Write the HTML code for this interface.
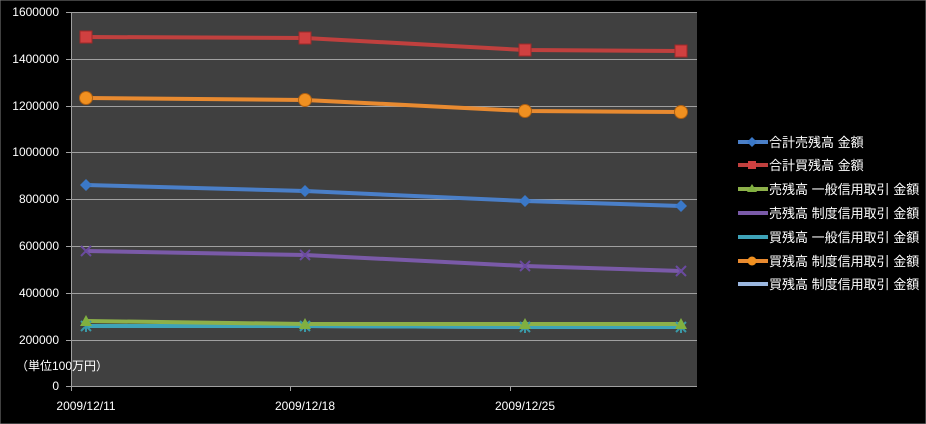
<!DOCTYPE html>
<html><head><meta charset="utf-8"><style>
html,body{margin:0;padding:0;background:#000;}
svg{display:block;}
text{font-family:"Liberation Sans","Noto Sans CJK JP",sans-serif;fill:#fff;}
</style></head><body>
<svg width="926" height="424" xmlns="http://www.w3.org/2000/svg">
<rect x="0" y="0" width="926" height="424" fill="#000" stroke="#808080" stroke-width="1"/>
<rect x="71" y="12" width="626" height="374" fill="#404040"/>
<g stroke="#a0a0a0" stroke-width="1">
<line x1="66" y1="12.5" x2="697" y2="12.5"/>
<line x1="66" y1="59.5" x2="697" y2="59.5"/>
<line x1="66" y1="106.5" x2="697" y2="106.5"/>
<line x1="66" y1="152.5" x2="697" y2="152.5"/>
<line x1="66" y1="199.5" x2="697" y2="199.5"/>
<line x1="66" y1="246.5" x2="697" y2="246.5"/>
<line x1="66" y1="293.5" x2="697" y2="293.5"/>
<line x1="66" y1="340.5" x2="697" y2="340.5"/>
<line x1="66" y1="386.5" x2="697" y2="386.5"/>
<line x1="71.5" y1="12" x2="71.5" y2="391"/>
<line x1="290.5" y1="386" x2="290.5" y2="391"/>
<line x1="510.5" y1="386" x2="510.5" y2="391"/>
</g>
<g font-size="12" text-anchor="end">
<text x="59" y="16">1600000</text>
<text x="59" y="63">1400000</text>
<text x="59" y="110">1200000</text>
<text x="59" y="156">1000000</text>
<text x="59" y="203">800000</text>
<text x="59" y="250">600000</text>
<text x="59" y="297">400000</text>
<text x="59" y="344">200000</text>
<text x="59" y="390">0</text>
</g>
<text x="16" y="370" font-size="12">（単位100万円）</text>
<g font-size="12" text-anchor="middle">
<text x="86" y="410">2009/12/11</text>
<text x="305" y="410">2009/12/18</text>
<text x="525" y="410">2009/12/25</text>
</g>
<g fill="none" stroke-width="4" stroke-linejoin="round">
<polyline points="86,326 305,326 525,327 681,327" stroke="#9bb7e0"/>
<polyline points="86,326 305,326 525,327 681,327" stroke="#3ea3b8"/>
<polyline points="86,321 305,324 525,324 681,324" stroke="#8db04a"/>
<polyline points="86,251 305,255 525,266 681,271" stroke="#7a5aa8"/>
<polyline points="86,185 305,191 525,201 681,206" stroke="#4a7fc8"/>
<polyline points="86,98 305,100 525,111 681,112" stroke="#e88a30"/>
<polyline points="86,37 305,38 525,50 681,51" stroke="#c0403e"/>
</g>
<g fill="#d04040" stroke="#a02828">
<rect x="80" y="31" width="12" height="12"/><rect x="299" y="32" width="12" height="12"/><rect x="519" y="44" width="12" height="12"/><rect x="675" y="45" width="12" height="12"/>
</g>
<g fill="#f09020" stroke="#b06010">
<circle cx="86" cy="98" r="6.5"/><circle cx="305" cy="100" r="6.5"/><circle cx="525" cy="111" r="6.5"/><circle cx="681" cy="112" r="6.5"/>
</g>
<g fill="#3a78c8">
<polygon points="86,179 92,185 86,191 80,185"/><polygon points="305,185 311,191 305,197 299,191"/><polygon points="525,195 531,201 525,207 519,201"/><polygon points="681,200 687,206 681,212 675,206"/>
</g>
<g stroke="#6a4aa0" stroke-width="2">
<path d="M81,246l10,10M91,246l-10,10M300,250l10,10M310,250l-10,10M520,261l10,10M530,261l-10,10M676,266l10,10M686,266l-10,10"/>
</g>
<g stroke="#3a9aa8" stroke-width="2">
<path d="M81,321l10,10M91,321l-10,10M86,320v12M300,321l10,10M310,321l-10,10M305,320v12M520,322l10,10M530,322l-10,10M525,321v12M676,322l10,10M686,322l-10,10M681,321v12"/>
</g>
<g fill="#80b040">
<polygon points="86,315 92,326 80,326"/><polygon points="305,318 311,329 299,329"/><polygon points="525,318 531,329 519,329"/><polygon points="681,318 687,329 675,329"/>
</g>
<g font-size="13">
<line x1="738" y1="142" x2="768" y2="142" stroke="#4a7fc8" stroke-width="4"/><polygon points="752,137 757,142 752,147 747,142" fill="#3a78c8"/>
<text x="769" y="147">合計売残高 金額</text>
<line x1="738" y1="165" x2="768" y2="165" stroke="#c0403e" stroke-width="4"/><rect x="748" y="161" width="8" height="8" fill="#d04040"/>
<text x="769" y="170">合計買残高 金額</text>
<line x1="738" y1="189" x2="768" y2="189" stroke="#8db04a" stroke-width="4"/><polygon points="752,184 757,192 747,192" fill="#80b040"/>
<text x="769" y="194">売残高 一般信用取引 金額</text>
<line x1="738" y1="213" x2="768" y2="213" stroke="#7a5aa8" stroke-width="4"/>
<text x="769" y="218">売残高 制度信用取引 金額</text>
<line x1="738" y1="237" x2="768" y2="237" stroke="#3ea3b8" stroke-width="4"/>
<text x="769" y="242">買残高 一般信用取引 金額</text>
<line x1="738" y1="261" x2="768" y2="261" stroke="#e88a30" stroke-width="4"/><circle cx="752" cy="261" r="4.5" fill="#f09020"/>
<text x="769" y="266">買残高 制度信用取引 金額</text>
<line x1="738" y1="284" x2="768" y2="284" stroke="#9bb7e0" stroke-width="4"/>
<text x="769" y="289">買残高 制度信用取引 金額</text>
</g>
</svg>
</body></html>
